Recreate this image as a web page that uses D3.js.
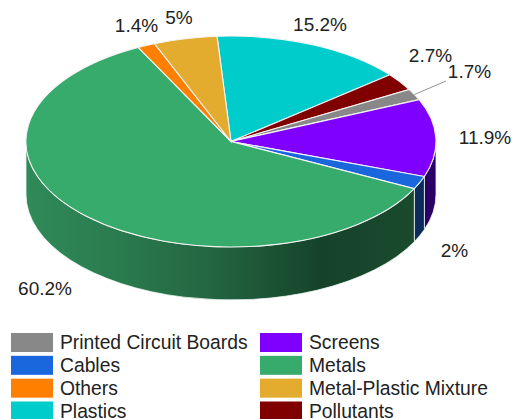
<!DOCTYPE html>
<html><head><meta charset="utf-8">
<script src="https://cdn.jsdelivr.net/npm/d3@7"></script>
<style>html,body{margin:0;padding:0;background:#fff;overflow:hidden}svg{display:block}text{font-family:"Liberation Sans",Arial,sans-serif;fill:#222}</style>
</head><body><svg id="c" width="512" height="419"></svg>
<script>
const categories=["Plastics","Pollutants","Printed Circuit Boards","Screens","Cables","Metals","Others","Metal-Plastic Mixture"];
const values=[15.2,2.7,1.7,11.9,2,60.2,1.4,5];
const labels=["15.2%","2.7%","1.7%","11.9%","2%","60.2%","1.4%","5%"];
const topColors=["#00cccc","#800000","#888888","#8000ff","#1a66dd","#36ab6b","#ff8000","#e3ac2f"];
const sideColors=["#006666","#400000","#444444","#2b0066","#0d2a5c","url(#metalSide)","#804000","#715716"];
const legendOrder=["Printed Circuit Boards","Cables","Others","Plastics","Screens","Metals","Metal-Plastic Mixture","Pollutants"];

const W=512,H=419,cx=231,cy=141.5,rx=205,ry=105.5,depth=53;
const svg=d3.select("#c");
const start=-3.9*Math.PI/180;
const pie=d3.pie().sort(null).value(d=>d.v).startAngle(start).endAngle(start+2*Math.PI);
const arcs=pie(categories.map((c,i)=>({c,v:values[i],i})));
const px=a=>cx+rx*Math.sin(a), py=a=>cy-ry*Math.cos(a);

const grad=svg.append("defs").append("linearGradient").attr("id","metalSide")
 .attr("gradientUnits","userSpaceOnUse").attr("x1",26).attr("x2",415).attr("y1",0).attr("y2",0);
[[0,"#2f8a58"],[.25,"#2a7a4e"],[.5,"#22633f"],[.76,"#15432a"],[1,"#1a4a2e"]]
 .forEach(s=>grad.append("stop").attr("offset",s[0]).attr("stop-color",s[1]));

// side walls (front half only)
const sides=svg.append("g");
arcs.forEach(d=>{
  const a0=Math.max(d.startAngle,Math.PI/2), a1=Math.min(d.endAngle,3*Math.PI/2);
  if(a1<=a0) return;
  const large=a1-a0>Math.PI?1:0;
  sides.append("path")
   .attr("d",`M${px(a0)},${py(a0)}A${rx},${ry} 0 ${large} 1 ${px(a1)},${py(a1)}L${px(a1)},${py(a1)+depth}A${rx},${ry} 0 ${large} 0 ${px(a0)},${py(a0)+depth}Z`)
   .attr("fill",sideColors[d.data.i]).attr("stroke","#eef5f0").attr("stroke-width",.8);
});

// top face
const arc=d3.arc().innerRadius(0).outerRadius(1);
svg.append("g").attr("transform",`translate(${cx},${cy}) scale(${rx},${ry})`)
 .selectAll("path").data(arcs).join("path")
 .attr("d",arc).attr("fill",d=>topColors[d.data.i])
 .attr("stroke","#f4f4f4").attr("stroke-width",1.1).attr("vector-effect","non-scaling-stroke");

// data labels
const labelPos=[[320,31],[430.5,62],[469.5,78],[485,144],[454.5,257],[45,295],[136.5,32],[179,24]];
svg.append("g").selectAll("text").data(labels).join("text")
 .attr("x",(d,i)=>labelPos[i][0]).attr("y",(d,i)=>labelPos[i][1])
 .attr("text-anchor","middle").attr("font-size",19).text(d=>d);
// leader line of the 1.7% label
const lead=arcs[2], leadA=(lead.startAngle+lead.endAngle)/2;
svg.append("line").attr("x1",px(leadA)).attr("y1",py(leadA)).attr("x2",446).attr("y2",81)
 .attr("stroke","#777").attr("stroke-width",.8);

// legend
const col=d3.scaleOrdinal().domain(categories).range(topColors);
const rowY=d3.scalePoint().domain([0,1,2,3]).range([342.5,411]);
const lg=svg.append("g").selectAll("g").data(legendOrder).join("g")
 .attr("transform",(d,i)=>`translate(${i<4?11:260},${rowY(i%4)})`);
lg.append("rect").attr("x",0).attr("y",-9.5).attr("width",42).attr("height",19).attr("fill",d=>col(d));
lg.append("text").attr("x",49).attr("y",6.5).attr("font-size",19.3).text(d=>d);
</script></body></html>
